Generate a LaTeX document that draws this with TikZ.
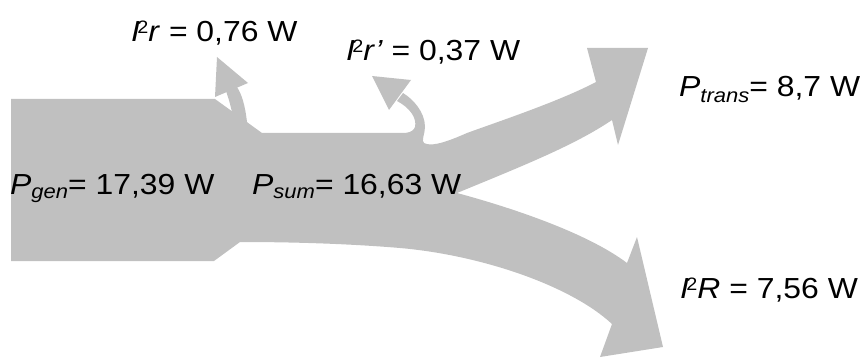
\documentclass[tikz,border=0pt]{standalone}
\usepackage{fontspec}
\setmainfont[FakeStretch=1.1]{Liberation Sans}
\definecolor{flowgray}{RGB}{192,192,192}
% I squared: italic I with a small raised 2
\newcommand{\Isq}{\textit{I}\kern-0.09em\raisebox{8pt}{\fontsize{18}{18}\selectfont 2}}
% italic subscript with adjustable drop
\newcommand{\flowsub}[2][-4pt]{\raisebox{#1}{\fontsize{20}{20}\selectfont\itshape #2}}
\begin{document}
\begin{tikzpicture}[x=1pt,y=-1pt,
  lbl/.style={inner sep=0pt, anchor=base west, font=\fontsize{29}{32}\selectfont},
  flow/.style={fill=flowgray, draw=none}]
\useasboundingbox (0,0) rectangle (866,358);

% main stream: generator block splitting into transmission and R branches
\fill[flow] (11,99) -- (215,99) -- (262,133) -- (408,133) -- (418,133) -- (422,140) -- (424,143)
  .. controls (430,146) and (440,145) .. (467,133)
  .. controls (500,121) and (560,101) .. (596,82)
  -- (587,48) -- (648,48) -- (618,145) -- (612,120)
  .. controls (575,145) and (525,165) .. (457,193)
  .. controls (520,210) and (590,235) .. (627,263)
  -- (637,237) -- (663,347) -- (600,357) -- (612,324)
  .. controls (570,285) and (480,255) .. (400,248)
  .. controls (340,243) and (280,242) .. (240,242)
  -- (214,261) -- (11,261) -- cycle;

% loss branch I^2 r
\fill[flow] (226,91) .. controls (229,100) and (231,106) .. (233,118) -- (250,128) -- (247,122)
  .. controls (245,105) and (242,95) .. (237,87) -- cycle;
\fill[flow] (217,57) -- (248,83) -- (215,97) -- cycle;

% loss branch I^2 r'
\fill[flow] (397,101) .. controls (410,108) and (417,118) .. (415,127)
  .. controls (414,130) and (411,132) .. (406,133) -- (406,137) -- (424,144)
  .. controls (421,140) and (425,134) .. (425,127)
  .. controls (425,112) and (413,99) .. (403,93) -- cycle;
\fill[flow] (372,76) -- (411,80) -- (389,110) -- cycle;

% labels
\node[lbl] (lossr)  at (131,42)  {\Isq\textit{r} = 0,76 W};
\node[lbl] (lossrp) at (346,61)  {\Isq\textit{r'} = 0,37 W};
\node[lbl] (ptrans) at (679,97)  {\textit{P}\flowsub[-6pt]{trans}= 8,7 W};
\node[lbl] (pgen)   at (10,194)  {\textit{P}\flowsub{gen}= 17,39 W};
\node[lbl] (psum)   at (252,194) {\textit{P}\flowsub{sum}= 16,63 W};
\node[lbl] (lossR)  at (680,298) {\Isq\textit{R} = 7,56 W};
\end{tikzpicture}
\end{document}
